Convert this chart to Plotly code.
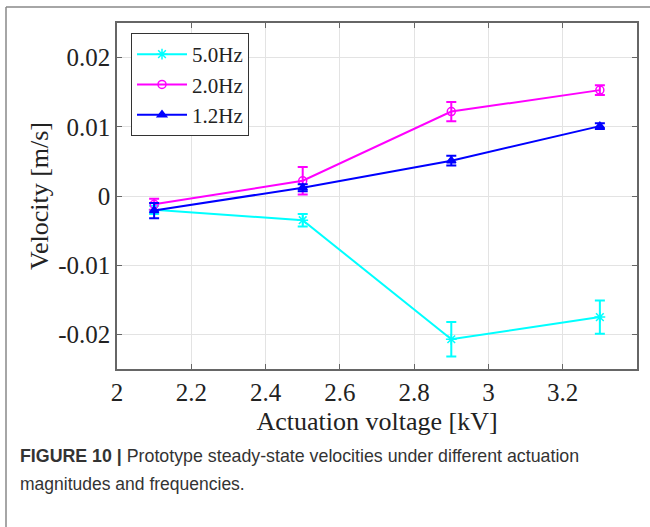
import plotly.graph_objects as go

voltage = [2.1, 2.5, 2.9, 3.3]
v_5hz = [-0.0020, -0.0035, -0.0207, -0.0175]
e_5hz = [0.0006, 0.0009, 0.0025, 0.0024]
v_2hz = [-0.0012, 0.0022, 0.0122, 0.0153]
e_2hz = [0.0008, 0.0020, 0.0014, 0.0007]
v_12hz = [-0.0021, 0.0012, 0.0051, 0.0101]
e_12hz = [0.0011, 0.0005, 0.0007, 0.0004]

series = [
    ("5.0Hz", v_5hz, e_5hz, "#00ffff", "asterisk-open", 9),
    ("2.0Hz", v_2hz, e_2hz, "#ff00ff", "circle-open", 8),
    ("1.2Hz", v_12hz, e_12hz, "#0000ff", "triangle-up", 8),
]

fig = go.Figure()
for name, y, e, c, sym, sz in series:
    fig.add_trace(go.Scatter(
        x=voltage, y=y, name=name, mode="lines+markers",
        line=dict(color=c, width=2),
        marker=dict(symbol=sym, size=sz, color=c, line=dict(color=c, width=1.5)),
        error_y=dict(type="data", array=e, visible=True, color=c, thickness=2, width=5),
    ))

serif = "Liberation Serif, Times New Roman, serif"
L, R, T, B = 117, 13, 23, 158
W, H = 650, 527
pw, ph = W - L - R, H - T - B

def px(x):
    return (x - L) / pw

def py(y):
    return (H - B - y) / ph

fig.update_layout(
    width=W, height=H,
    margin=dict(l=L, r=R, t=T, b=B),
    paper_bgcolor="white", plot_bgcolor="white",
    font=dict(family=serif, size=25, color="#222"),
    showlegend=True,
    legend=dict(x=px(131), y=py(33), xanchor="left", yanchor="top",
                bordercolor="#333", borderwidth=1, bgcolor="white",
                font=dict(family=serif, size=21, color="#222"),
                itemwidth=50, tracegroupgap=0),
    xaxis=dict(range=[2, 3.4], tickvals=[2, 2.2, 2.4, 2.6, 2.8, 3, 3.2],
               ticktext=["2", "2.2", "2.4", "2.6", "2.8", "3", "3.2"],
               showgrid=True, gridcolor="#e3e3e3", gridwidth=1,
               showline=True, linecolor="#666", linewidth=1.5, mirror="ticks",
               ticks="inside", ticklen=5, tickcolor="#666", zeroline=False,
               title=dict(text="Actuation voltage [kV]", font=dict(family=serif, size=26, color="#222"), standoff=7),
               tickfont=dict(family=serif, size=25, color="#222")),
    yaxis=dict(range=[-0.025, 0.025], tickvals=[-0.02, -0.01, 0, 0.01, 0.02],
               ticktext=["-0.02", "-0.01", "0", "0.01", "0.02"],
               showgrid=True, gridcolor="#e3e3e3", gridwidth=1,
               showline=True, linecolor="#666", linewidth=1.5, mirror="ticks",
               ticks="inside", ticklen=5, tickcolor="#666", zeroline=False,
               title=dict(text="Velocity [m/s]", font=dict(family=serif, size=26, color="#222"), standoff=2),
               tickfont=dict(family=serif, size=25, color="#222")),
)

sans = "Liberation Sans, Arial, sans-serif"
fig.add_annotation(xref="paper", yref="paper", x=px(18), y=py(456), xanchor="left", yanchor="middle",
                   text="<b>FIGURE 10 |</b> Prototype steady-state velocities under different actuation",
                   showarrow=False, font=dict(family=sans, size=17.8, color="#333"))
fig.add_annotation(xref="paper", yref="paper", x=px(18), y=py(484), xanchor="left", yanchor="middle",
                   text="magnitudes and frequencies.",
                   showarrow=False, font=dict(family=sans, size=17.5, color="#333"))

# figure frame lines (top and left)
fig.add_shape(type="line", xref="paper", yref="paper", x0=px(6), x1=px(650), y0=py(7), y1=py(7),
              line=dict(color="#888", width=1.5))
fig.add_shape(type="line", xref="paper", yref="paper", x0=px(6), x1=px(6), y0=py(7), y1=py(527),
              line=dict(color="#888", width=1.5))

fig.write_html("out.html", config={"displayModeBar": False},
               post_script="document.body.style.margin='0';document.body.style.overflow='hidden';")
